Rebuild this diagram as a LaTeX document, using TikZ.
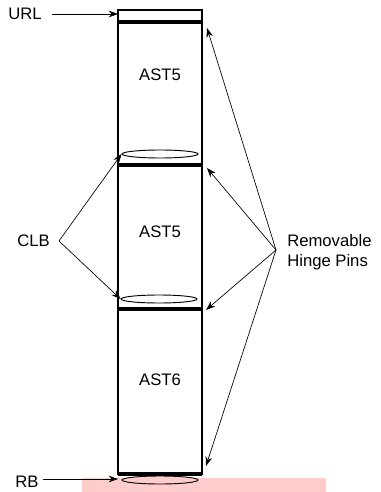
\documentclass[tikz,border=0pt]{standalone}
\usepackage{fontspec}
\setmainfont{Liberation Sans}
\usetikzlibrary{arrows.meta,shapes.geometric}
\tikzset{
    lbl/.style={font=\fontsize{12.5}{15}\selectfont, inner sep=0pt, align=left},
    pin/.style={draw, ellipse, line width=0.7pt, minimum width=57pt, minimum height=6pt, inner sep=0pt},
    ptr/.style={-{Stealth[length=7pt,width=5pt]}, line width=0.5pt},
    sep/.style={line width=3.5pt}
}
\begin{document}
\begin{tikzpicture}[x=0.75pt,y=-0.75pt]
    \useasboundingbox (0,0) rectangle (380,492);
    \fill[red!20] (82,478) rectangle (326,492);

    % column
    \draw[line width=1.5pt] (118,10) rectangle (202,474);
    \draw[sep] (118,22) -- (202,22);
    \draw[sep] (118,165) -- (202,165);
    \draw[sep] (118,309) -- (202,309);
    \draw[sep] (118,474) -- (202,474);

    \node[pin] (pina) at (160,154) {};
    \node[pin] (pinb) at (159,299) {};
    \node[pin, fill=red!20] (pinc) at (160,480) {};

    \node[lbl] (ast1) at (160,75) {AST5};
    \node[lbl] (ast2) at (160,232) {AST5};
    \node[lbl] (ast3) at (160,380) {AST6};

    \node[lbl, anchor=west] (url) at (8,14) {URL};
    \node[lbl, anchor=east] (clb) at (50,241) {CLB};
    \node[lbl, anchor=west] (rb) at (15,482) {RB};
    \node[lbl, anchor=west] (rhp) at (287,252) {Removable\\Hinge Pins};

    \coordinate (urltip) at (118,14);
    \coordinate (rbtip) at (118,479);
    \coordinate (fan) at (276,250);
    \coordinate (hpa) at (207,28);
    \coordinate (hpb) at (207,168);
    \coordinate (hpc) at (206,310);
    \coordinate (hpd) at (206,466);

    \draw[ptr] (url.east) ++(10,0) -- (urltip);
    \draw[ptr] (rb.east) ++(4,-3) -- (rbtip);
    \draw[ptr] (clb.east) ++(9,0) -- (pina.west);
    \draw[ptr] (clb.east) ++(9,0) -- (pinb.west);
    \draw[ptr] (fan) -- (hpa);
    \draw[ptr] (fan) -- (hpb);
    \draw[ptr] (fan) -- (hpc);
    \draw[ptr] (fan) -- (hpd);
\end{tikzpicture}
\end{document}
